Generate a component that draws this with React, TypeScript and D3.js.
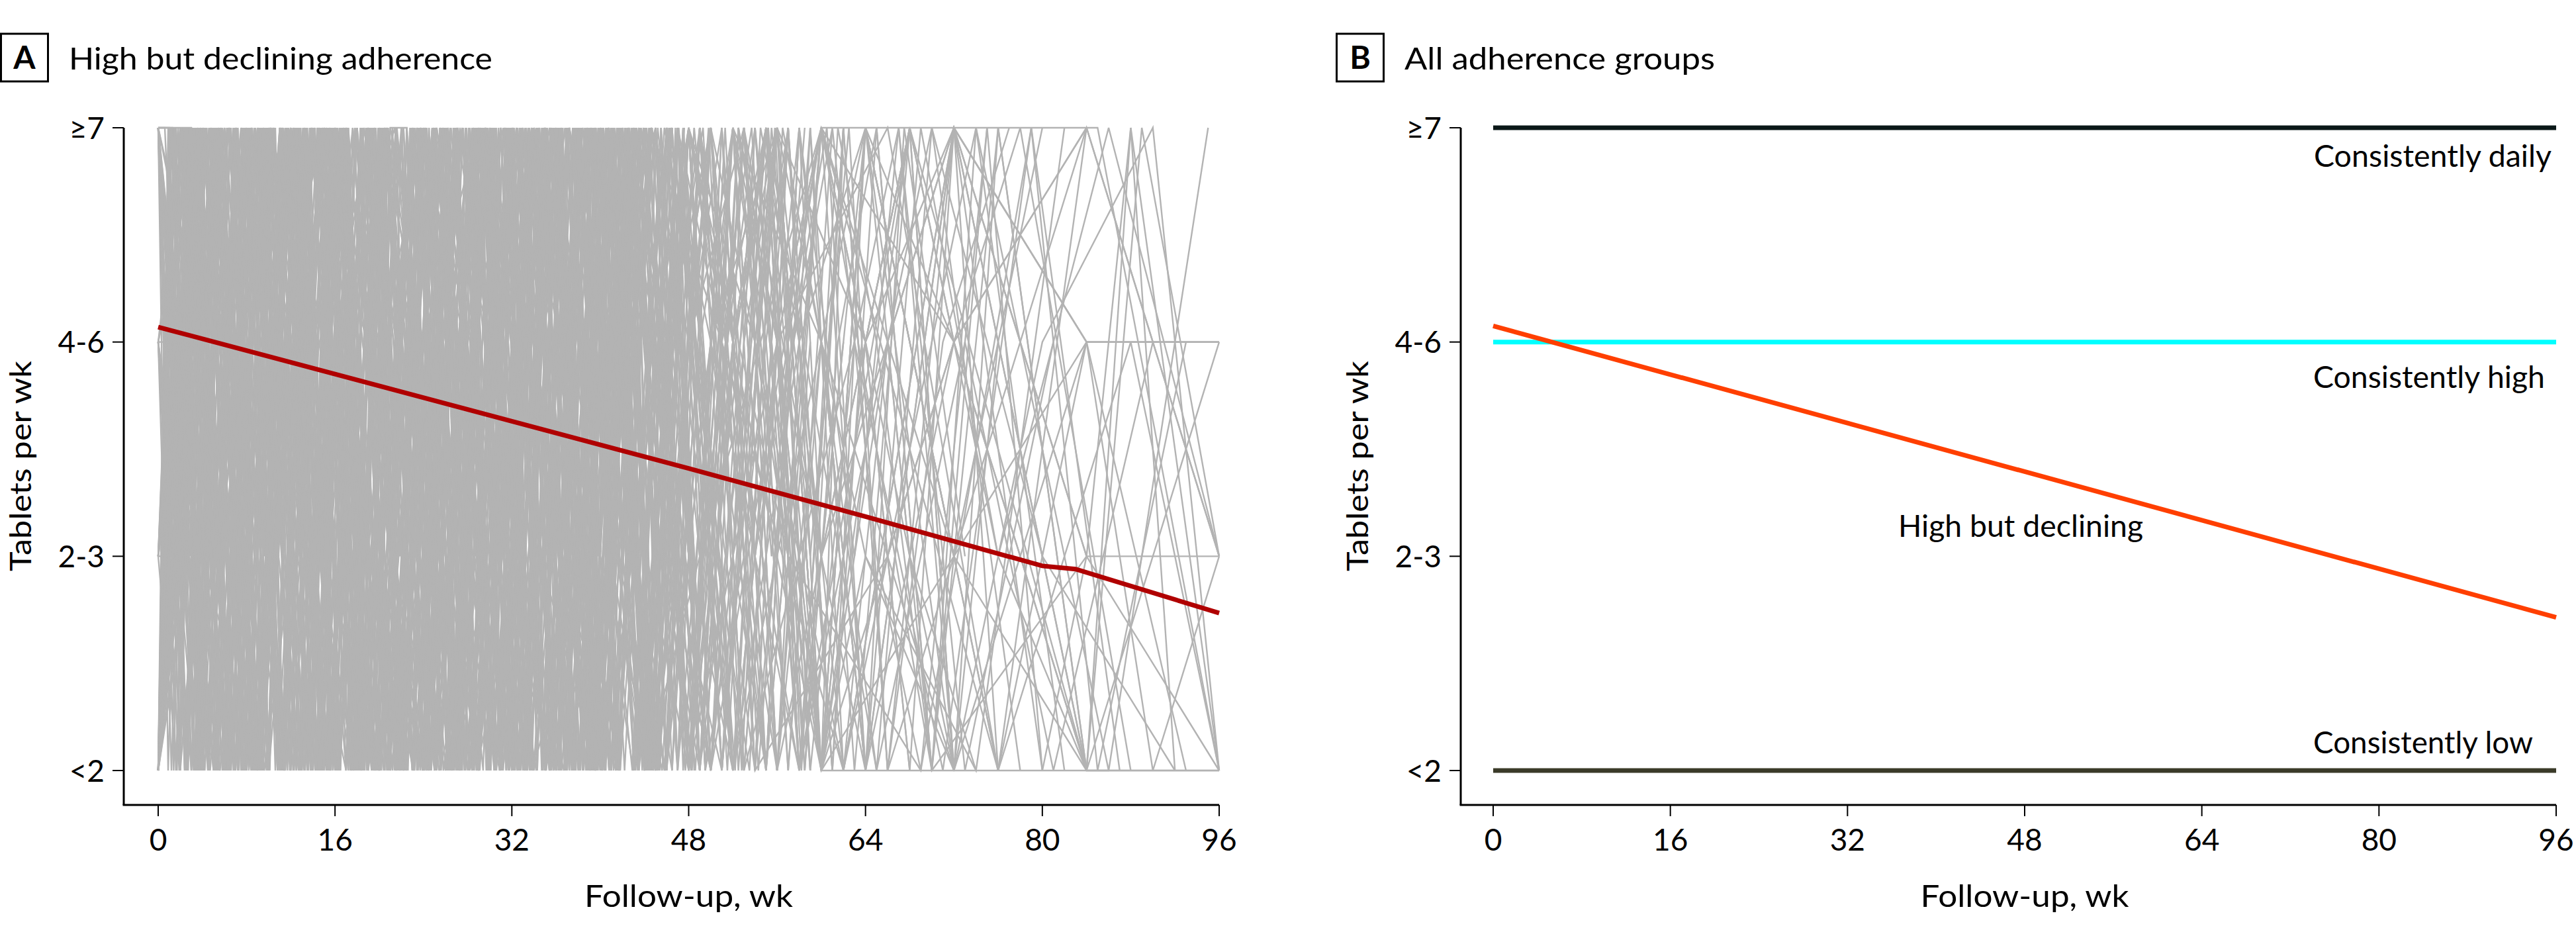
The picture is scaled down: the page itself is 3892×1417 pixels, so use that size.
import React from "react";
import * as d3 from "d3";

// ---------- DATA ----------
const yLevels = [0, 1, 2, 3];
const yTickLabels = ["<2", "2-3", "4-6", "≥7"];
const xTicks = [0, 16, 32, 48, 64, 80, 96];

// Individual trajectories, panel A: "week+level" tokens, level a=<2, b=2-3, c=4-6, d=≥7
const trajectories: string[] = [
  "0a 1.5d 3a 4.5c 6d 7.5a 9d 10.5b 12d 13.5a 15d 16.5c 18a 19.5d 21a 22.5d 24b 25.5d 27a 28.5c 30d 31.5a 33d 35b 37d 39a 41d 43b 46d 49a 52c 55d",
  "0d 1d 2a 3.5d 5b 6.5d 8a 9.5c 11d 12.5a 14d 15.5b 17d 18.5a 20c 21.5d 23a 24.5d 26b 27.5a 29d 30.5c 32a 33.5d 35a 36.5d 38b 40a 42d 45a 48c 51d 54a 57d",
  "0a 2.2c 3.8d 5.2a 6.8d 8.2b 9.8d 11.2a 12.8c 14.2d 15.8a 17.2d 18.8b 20.2d 21.8a 23.2c 24.8d 26.2a 27.8d 29.2b 30.8d 32.2a 33.8d 35.2c 36.8a 38.2d 40a 41.8d 44b",
  "0c 0.8c 2.5a 4d 5.5a 7c 8.5d 10a 11.5d 13b 14.5d 16a 17.5c 19d 20.5a 22d 23.5b 25d 26.5a 28c 29.5d 31a 32.5d 34b 35.5d 37a 38.5c 40d 41.5a 43d 45b 47d",
  "0a 1.2d 2.8b 4.4d 6a 7.6d 9.2c 10.8a 12.4d 14b 15.6d 17.2a 18.8d 20.4c 22a 23.6d 25.2a 26.8b 28.4d 30a 31.6c 33.2d 34.8a 36.4d 38b 39.6d 41.2a 43c 45d 47a 49d",
  "0d 2a 3.2d 4.8c 6.4a 8d 9.6b 11.2d 12.8a 14.4c 16d 17.6a 19.2d 20.8b 22.4a 24d 25.6c 27.2a 28.8d 30.4b 32d 33.6a 35.2d 36.8c 38.4a 40d 42b 44d 46a 48c 50d",
  "0b 1.8d 3.3a 4.9d 6.3b 7.9d 9.4a 10.9c 12.4d 13.9a 15.4d 16.9b 18.4d 19.9a 21.4c 22.9d 24.4a 25.9d 27.4b 28.9a 30.4d 31.9c 33.4a 34.9d 36.4b 37.9d 39.4a 41d 43c 45a 47d",
  "0a 1d 2.6a 4.1c 5.7d 7.2a 8.7d 10.3b 11.8d 13.3a 14.8c 16.4d 17.9a 19.4d 21b 22.5d 24a 25.5c 27.1d 28.6a 30.1d 31.7b 33.2a 34.7d 36.2c 37.8a 39.3d 41b 43d 45a 47d 50b 53d 56a",
  "0d 0.6d 2.3b 3.9d 5.4a 7d 8.5c 10.1a 11.6d 13.2b 14.7d 16.3a 17.8d 19.4c 20.9a 22.5d 24b 25.6d 27.1a 28.7c 30.2d 31.8a 33.3d 34.9b 36.4a 38d 39.5c 41.1d 43a 45d 48b 52a",
  "0a 2.4d 3.7a 5.3d 6.9b 8.4a 10d 11.5c 13.1d 14.6a 16.2d 17.7b 19.3a 20.8d 22.4c 23.9a 25.5d 27b 28.6d 30.1a 31.7d 33.2c 34.8a 36.3d 37.9b 39.4d 41a 43d 46c 49a",
  "0a 1.3c 2.1d 3.6a 5.1d 6.7c 8.2a 9.7d 11.3a 12.8d 14.3b 15.9d 17.4a 18.9c 20.5d 22a 23.5d 25.1b 26.6a 28.1d 29.7a 31.2c 32.7d 34.3a 35.8d 37.3b 38.9d 40.4a 42c 44d 46.5a 49d 52b 55a 58d",
  "0d 1.4a 2.9d 4.3b 5.8d 7.3a 8.8c 10.2d 11.7a 13.2d 14.6b 16.1a 17.6d 19c 20.5a 22d 23.4a 24.9c 26.4d 27.8a 29.3d 30.8b 32.2d 33.7a 35.2c 36.6d 38.1a 39.6d 41b 42.6d 44.5a 47c",
  "0c 1.9a 3.1d 4.6a 6.1c 7.5d 9a 10.5d 11.9b 13.4d 14.9a 16.3c 17.8d 19.3a 20.7d 22.2b 23.7a 25.1d 26.6c 28.1a 29.5d 31a 32.5b 33.9d 35.4a 36.9d 38.3c 39.8a 41.3d 43a 45c 48d 51a",
  "0a 0.9d 2.4a 3.9c 5.4d 6.8a 8.3d 9.8b 11.2a 12.7d 14.2c 15.6a 17.1d 18.6a 20b 21.5d 23a 24.4c 25.9d 27.4a 28.8d 30.3b 31.8d 33.2a 34.7c 36.2d 37.6a 39.1d 40.6b 42.5d 44.5a 47c 50d 53a 56c 59a",
  "0b 1.7a 3.2d 4.7b 6.2d 7.6a 9.1c 10.6d 12a 13.5d 15b 16.4d 17.9a 19.4d 20.8c 22.3a 23.8d 25.2a 26.7d 28.2b 29.6d 31.1a 32.6c 34d 35.5a 37d 38.4b 39.9d 41.4a 43d 45b 47.5d 50a",
  "0a 2.6d 3.4b 4.9d 6.4a 7.8c 9.3d 10.8a 12.2d 13.7b 15.2a 16.6d 18.1c 19.6a 21d 22.5d 24a 25.4c 26.9d 28.4a 29.8d 31.3b 32.8a 34.2d 35.7c 37.2a 38.6d 40.1a 41.6c 43.5d 46a",
  "0d 1.1c 2.7a 4.2d 5.6b 7.1d 8.6a 10c 11.5d 13a 14.4d 15.9b 17.4a 18.8d 20.3c 21.8a 23.2d 24.7a 26.2d 27.6b 29.1d 30.6a 32c 33.5d 35a 36.4d 37.9b 39.4a 40.8d 42.5c 44.5a 47d",
  "0a 1.6d 3.3c 4.1a 5.6d 7b 8.5d 10a 11.4c 12.9d 14.4a 15.8d 17.3b 18.8d 20.2a 21.7c 23.2d 24.6a 26.1d 27.6b 29a 30.5d 32a 33.4c 34.9d 36.4a 37.8d 39.3b 40.8a 42.2d 44c 46a 48.5d",
  "0c 2.2d 3.5a 5d 6.5c 7.9a 9.4d 10.9b 12.3d 13.8a 15.3d 16.7c 18.2a 19.7d 21.1b 22.6a 24.1d 25.5c 27a 28.5d 29.9a 31.4d 32.9b 34.3d 35.8a 37.3c 38.7d 40.2a 41.7d 43.5b 45.5d 48a 51d 54b 57d 61a",
  "0a 1.9b 2.5d 4a 5.5d 6.9c 8.4a 9.9d 11.3a 12.8d 14.3b 15.7d 17.2a 18.7c 20.1d 21.6a 23.1d 24.5b 26a 27.5d 28.9c 30.4a 31.9d 33.3a 34.8d 36.3b 37.7d 39.2a 40.7c 42.5d 44.8a 47b",
  "0d 1.3d 3a 5d 7b 9d 11a 13c 15d 17a 19d 21b 23a 25d 27c 29a 31d 33a 35d 37b 39a 41d 43c 45a 47d 49a 51c",
  "0a 2.8d 4.5a 6.3c 8.1d 9.9a 11.7d 13.5b 15.3a 17.1d 18.9c 20.7a 22.5d 24.3a 26.1d 27.9b 29.7d 31.5a 33.3c 35.1d 36.9a 38.7d 40.5b 42.3d 44.1a 46c 48d 51a",
  "0b 0.7b 2.1d 3.9a 5.7d 7.5b 9.3d 11.1a 12.9c 14.7d 16.5a 18.3d 20.1b 21.9a 23.7d 25.5c 27.3a 29.1d 30.9a 32.7d 34.5b 36.3d 38.1a 39.9c 41.7d 43.5a 45.5d 48b",
  "0a 1.1d 2.9b 4.7d 6.5a 8.3c 10.1d 11.9a 13.7d 15.5a 17.3c 19.1d 20.9a 22.7b 24.5d 26.3a 28.1d 29.9c 31.7a 33.5d 35.3b 37.1d 38.9a 40.7d 42.5c 44.3a 46.5d 49a 52c 55d 58a",
  "0d 2.5b 4.3d 6.1a 7.9d 9.7c 11.5a 13.3d 15.1b 16.9d 18.7a 20.5d 22.3c 24.1a 25.9d 27.7a 29.5d 31.3b 33.1a 34.9d 36.7c 38.5a 40.3d 42.1b 44d 46a 49d 53b",
  "0a 1.7c 3.5d 5.3a 7.1d 8.9a 10.7c 12.5d 14.3a 16.1d 17.9b 19.7a 21.5d 23.3c 25.1a 26.9d 28.7b 30.5d 32.3a 34.1c 35.9d 37.7a 39.5d 41.3b 43.1d 45a 48d 51a 54d 57b 60d",
  "0c 1.2a 3d 4.8b 6.6d 8.4a 10.2d 12c 13.8a 15.6d 17.4a 19.2d 21b 22.8d 24.6a 26.4c 28.2d 30a 31.8d 33.6b 35.4a 37.2d 39c 40.8a 42.6d 44.4a 46.5c 49d",
  "0a 2d 3.8a 5.6d 7.4c 9.2a 11d 12.8b 14.6d 16.4a 18.2c 20d 21.8a 23.6d 25.4b 27.2a 29d 30.8c 32.6a 34.4d 36.2a 38d 39.8b 41.6d 43.4a 45.2c 47d 50a 53c 56d 59a",
  "0d 0.9a 2.7d 4.5c 6.3a 8.1d 9.9b 11.7d 13.5a 15.3c 17.1d 18.9a 20.7d 22.5b 24.3a 26.1d 27.9c 29.7a 31.5d 33.3a 35.1d 36.9b 38.7a 40.5d 42.3c 44.1a 46d 48.5a",
  "0a 2.3d 4.1b 5.9a 7.7d 9.5c 11.3a 13.1d 14.9a 16.7d 18.5b 20.3d 22.1a 23.9c 25.7d 27.5a 29.3d 31.1b 32.9d 34.7a 36.5c 38.3d 40.1a 41.9d 43.7b 45.5d 47.5a 50c",
  "0b 1.6d 2.4a 4.2d 6c 7.8a 9.6d 11.4a 13.2d 15b 16.8d 18.6a 20.4c 22.2d 24a 25.8d 27.6b 29.4a 31.2d 33c 34.8a 36.6d 38.4a 40.2d 42b 44a 46.3d 49a 52d 55c 58a 62d",
  "0a 0.5c 2.2d 4a 5.8d 7.6b 9.4a 11.2d 13c 14.8a 16.6d 18.4a 20.2d 22b 23.8d 25.6a 27.4c 29.2d 31a 32.8d 34.6b 36.4a 38.2d 40c 41.8a 43.6d 45.4a 47.6d",
  "0d 1.9c 3.7a 5.5d 7.3a 9.1d 10.9b 12.7a 14.5d 16.3c 18.1a 19.9d 21.7a 23.5d 25.3b 27.1d 28.9a 30.7c 32.5d 34.3a 36.1d 37.9b 39.7a 41.5d 43.3c 45.1a 47d 49.5b",
  "0a 1.4d 3.2a 5c 6.8d 8.6a 10.4d 12.2b 14a 15.8d 17.6c 19.4a 21.2d 23a 24.8d 26.6b 28.4a 30.2d 32c 33.8a 35.6d 37.4a 39.2d 41b 42.8d 44.6a 47d 50b 53d 56a 59c",
  "0c 2.7a 3.6d 5.4b 7.2d 9a 10.8c 12.6d 14.4a 16.2d 18b 19.8a 21.6d 23.4c 25.2a 27d 28.8a 30.6d 32.4b 34.2d 36a 37.8c 39.6d 41.4a 43.2d 45b 47d 50a",
  "0a 1.8b 2.7d 4.5a 6.3d 8.1c 9.9a 11.7d 13.5a 15.3d 17.1b 18.9d 20.7a 22.5c 24.3d 26.1a 27.9d 29.7b 31.5a 33.3d 35.1c 36.9a 38.7d 40.5a 42.3d 44.1b 46.5d 49.5a 52.5d 55.5b 58.5d",
  "0d 1.6a 3.4d 5.2c 7a 8.8d 10.6a 12.4d 14.2b 16a 17.8d 19.6c 21.4a 23.2d 25a 26.8d 28.6b 30.4a 32.2d 34c 35.8a 37.6d 39.4a 41.2d 43b 45a 47d 51c",
  "0a 1d 2.8c 4.6d 6.4a 8.2d 10b 11.8d 13.6a 15.4c 17.2d 19a 20.8d 22.6b 24.4a 26.2d 28c 29.8a 31.6d 33.4a 35.2d 37b 38.8a 40.6d 42.4c 44.2a 46d 49a 52c 55d 58a",
  "0b 2.1d 3.9a 5.7d 7.5b 9.3a 11.1d 12.9c 14.7a 16.5d 18.3a 20.1d 21.9b 23.7d 25.5a 27.3c 29.1d 30.9a 32.7d 34.5b 36.3a 38.1d 39.9c 41.7a 43.5d 45.3a 48d",
  "0a 2.9c 3.3d 5.1a 6.9d 8.7b 10.5d 12.3a 14.1c 15.9d 17.7a 19.5d 21.3b 23.1a 24.9d 26.7c 28.5a 30.3d 32.1a 33.9d 35.7b 37.5d 39.3a 41.1c 42.9d 44.7a 46.8d 49a",
  // longer follow-up
  "0a 3d 6a 9c 12d 15a 18d 21b 24d 27a 30d 33c 36a 39d 42b 45d 48a 52c 56d 60a 64d 72a",
  "0d 2.5a 5.5d 8.5b 11.5d 14.5a 17.5c 20.5d 23.5a 26.5d 29.5b 32.5a 35.5d 38.5c 41.5a 44.5d 48b 52d 56a 60c 64a 72d 84d",
  "0a 2d 5b 8d 11a 14c 17d 20a 23d 26b 29a 32d 35c 38a 41d 44a 48d 54b 60d 72c 84a 96a",
  "0c 3a 6d 9b 12a 15d 18c 21a 24d 27a 30c 33d 36a 39d 42b 45a 48d 52a 58c 64d 72b 84c 96c",
  "0d 4a 7d 10c 13a 16d 19b 22d 25a 28c 31d 34a 37d 40b 43a 46d 50c 55a 60d 68d 72a 76d 84a",
  "0a 2.5c 5.5d 8.5a 11.5d 14.5b 17.5a 20.5d 23.5c 26.5a 29.5d 32.5a 35.5d 38.5b 41.5d 44.5a 48c 53d 60a 72b 84d 96b",
  "0b 3.5d 6.5a 9.5d 12.5c 15.5a 18.5d 21.5a 24.5b 27.5d 30.5a 33.5c 36.5d 39.5a 42.5d 46b 50a 56d 62a 72d 84b 88d 96a",
  "0a 1.5d 4.5a 7.5c 10.5d 13.5a 16.5d 19.5b 22.5a 25.5d 28.5c 31.5a 34.5d 37.5a 40.5c 43.5d 47a 52d 60b 64a 72c 84d 85d 96a",
  "0d 2a 5c 8d 11a 14d 17b 20a 23d 26c 29a 32d 35a 38d 41b 44a 47d 52a 56c 60d 76a 84c 96c",
  "0a 3.5c 6.5d 9.5a 12.5d 15.5b 18.5d 21.5a 24.5c 27.5d 30.5a 33.5d 36.5b 39.5a 42.5d 46c 50d 56a 60b 68d 72d 84a 89d 96b",
  "0c 2b 5d 8a 11d 14c 17a 20d 23a 26d 29b 32a 35d 38c 41a 44d 48a 52d 60c 72a 86a 95d",
  "0a 2.8d 5.8a 8.8d 11.8b 14.8d 17.8a 20.8c 23.8d 26.8a 29.8d 32.8b 35.8a 38.8d 41.8c 44.8a 48d 54c 60a 64d 72b 76a",
  "0d 1.2b 4.2d 7.2a 10.2d 13.2c 16.2a 19.2d 22.2a 25.2b 28.2d 31.2a 34.2c 37.2d 40.2a 43.2d 46.5b 51a 56d 64c 72d 80a 84b 96a",
  "0a 4d 7b 10d 13a 16c 19d 22a 25d 28b 31a 34d 37c 40a 43d 46a 50c 56d 60a 72a 84c 90a 96b",
  "0b 2.2d 5.2a 8.2c 11.2d 14.2a 17.2d 20.2b 23.2a 26.2d 29.2c 32.2a 35.2d 38.2a 41.2d 44.2b 48a 52d 57b 60a 68d 84a 88d 92a",
  "0a 3.2c 6.2a 9.2d 12.2a 15.2d 18.2c 21.2a 24.2d 27.2b 30.2d 33.2a 36.2c 39.2d 42.2a 45.2d 49b 54d 60a 66c 72d 84a 96c",
  "0d 3d 6a 9d 12c 15a 18d 21a 24b 27d 30a 33c 36d 39a 42d 45c 48a 53d 60b 72d 84b",
  "0a 1.8d 4.8b 7.8d 10.8a 13.8d 16.8c 19.8a 22.8d 25.8a 28.8b 31.8d 34.8a 37.8c 40.8d 43.8a 47d 51a 55d 60b 64d 72c 84d",
  "0c 2.6a 5.6d 8.6a 11.6c 14.6d 17.6a 20.6d 23.6b 26.6a 29.6d 32.6c 35.6a 38.6d 41.6a 44.6d 48c 52a 58d 64a 72d 84c 96c",
  "0a 3.8d 6.8c 9.8a 12.8d 15.8a 18.8d 21.8b 24.8d 27.8a 30.8c 33.8d 36.8a 39.8d 42.8b 45.8a 49d 55a 60d 72b 76a 84d 96b",
  "0a 3d 6c 9a 12d 15a 18d 21b 24a 27d 30c 33a 36d 39a 42d 46b 50a 54d 58a 62c",
  "0d 2.4a 5.4d 8.4b 11.4a 14.4d 17.4c 20.4a 23.4d 26.4a 29.4d 32.4b 35.4a 38.4d 41.4c 44.4a 47.5d 51a 56d 60a",
  "0a 3.3d 6.3a 9.3c 12.3d 15.3a 18.3d 21.3b 24.3a 27.3d 30.3c 33.3a 36.3d 39.3a 42.3d 45.5b 49a 52.5d 56c 60a 64d",
  "0b 1.5d 4.5a 7.5d 10.5c 13.5a 16.5d 19.5a 22.5b 25.5d 28.5a 31.5c 34.5d 37.5a 40.5d 43.5a 47c 50d 54a 57d 60a 64c 68d",
  "0a 2.7c 5.7d 8.7a 11.7d 14.7b 17.7a 20.7d 23.7c 26.7a 29.7d 32.7a 35.7d 38.7b 41.7a 44.7d 48a 51c 55d 60a 62d",
  "0d 4.2a 7.2d 10.2b 13.2d 16.2a 19.2c 22.2d 25.2a 28.2d 31.2b 34.2a 37.2d 40.2c 43.2a 46.2d 49.5a 53b 57d 60a 64b 72a",
  "0a 1.2d 4.2a 7.2c 10.2d 13.2a 16.2d 19.2b 22.2a 25.2d 28.2c 31.2a 34.2d 37.2a 40.2d 43.2b 46.5a 50d 53a 56c 60d 64a",
  "0c 3.6d 6.6a 9.6d 12.6b 15.6a 18.6d 21.6c 24.6a 27.6d 30.6a 33.6d 36.6b 39.6a 42.6d 45.6c 48.6a 52d 56a 60d 64c 68a",
  "0a 2.1d 5.1b 8.1d 11.1a 14.1c 17.1d 20.1a 23.1d 26.1b 29.1a 32.1d 35.1c 38.1a 41.1d 44.1a 47.1d 50b 53d 57a 61d",
  "0d 3.9c 6.9a 9.9d 12.9a 15.9d 18.9b 21.9a 24.9d 27.9c 30.9a 33.9d 36.9a 39.9d 42.9b 45.9a 49d 52c 55a 58d 60b 68d 72a",
  "0a 4d 8a 12c 16d 20a 24d 28b 32d 36a 40d 44c 47a 50d 53b 56a 59d 62a 66c 70a",
  "0d 5a 9d 13b 17a 21d 25c 29a 33d 37a 41d 45b 48d 51a 54c 57d 61a 64d 68b 74a",
  "0b 3d 7a 11d 15c 19a 23d 27a 31c 35d 39a 43d 46a 49c 52d 55a 58d 63b 67d 72a 76c",
  "0a 4.5c 8.5d 12.5a 16.5d 20.5b 24.5a 28.5d 32.5c 36.5a 40.5d 44.5a 47.5d 50.5b 53.5a 56.5d 60c 65a 70d 78a",
  "0c 3.5a 7.5d 11.5a 15.5d 19.5c 23.5a 27.5d 31.5b 35.5a 39.5d 43.5c 46.5d 49.5a 52.5d 55.5c 58.5a 62d 66a 72b 80d",
  "0a 4.2d 8.2b 12.2d 16.2a 20.2c 24.2d 28.2a 32.2d 36.2b 40.2a 44.2d 48.2a 51d 54a 57.5c 61d 65b 69a 75d",
  "0d 3.3a 7.3c 11.3d 15.3a 19.3d 23.3b 27.3a 31.3d 35.3c 39.3a 43.3d 46.8b 49.8d 52.8a 55.8d 59a 63c 67d 73a 81c",
  "0a 5.2d 9.2a 13.2d 17.2c 21.2a 25.2d 29.2b 33.2a 37.2d 41.2c 45.2a 48.5d 52b 55d 58a 62d 66a 71c 77d",
  "0b 4.8d 8.8a 12.8c 16.8d 20.8a 24.8d 28.8a 32.8b 36.8d 40.8a 44.8c 48d 51.5a 54.5d 58c 61a 65d 70a 74d 82a",
  "0a 3.7d 7.7a 11.7d 15.7b 19.7a 23.7d 27.7c 31.7a 35.7d 39.7a 43.7d 47b 50a 53d 56b 59d 63a 68d 72c",
  "0d 4.4c 8.4a 12.4d 16.4a 20.4d 24.4b 28.4a 32.4d 36.4c 40.4a 44.4d 47.7a 50.7c 53.7d 57a 60c 64a 69d 76b 84a",
  "0a 2.9d 6.9a 10.9c 14.9d 18.9a 22.9d 26.9b 30.9a 34.9d 38.9c 42.9a 46d 49a 52.2c 55.2d 58.2a 61.5d 65c 70a 75d 80a",
  "0c 5.6a 9.6d 13.6b 17.6d 21.6a 25.6c 29.6d 33.6a 37.6d 41.6b 45.6a 49d 52a 55.5d 59b 62.5d 66a 72d 76a",
  "0a 3.1c 7.1d 11.1a 15.1d 19.1b 23.1a 27.1d 31.1c 35.1a 39.1d 43.1a 46.3c 49.3d 52.5a 56d 60a 64c 68a 72d 84c",
  "0d 4.7a 8.7d 12.7a 16.7c 20.7d 24.7a 28.7d 32.7b 36.7a 40.7d 44.7c 48.3a 51.3d 54.3a 57.3c 60.5d 64a 67.5d 73b",
  "0a 5.8d 9.8b 13.8d 17.8a 21.8c 25.8d 29.8a 33.8d 37.8b 41.8a 45.8d 49.2c 52.2a 55.2d 58.5a 61.5c 65d 70a 76d 84a",
  "0a 4d 8b 12d 16a 20d 24c 28a 32d 36a 40d 44b 48d 60a 72c 84a",
  "0d 5a 10d 15c 20a 25d 30a 35d 40b 45a 50d 62a 74d 86a",
  "0a 6c 12d 18a 24d 30b 36a 42d 48a 56c 66d 76a 88c 96a",
  "0c 4a 9d 14a 19d 24b 29a 34d 39c 44a 48d 58a 70d 80b 92a",
  "0a 5d 10a 15d 20c 25a 30d 35a 40c 45d 52a 64d 72b 84a 96a",
  "0d 4b 9a 14d 19a 24c 29d 34a 39d 44a 49b 60d 70a 84b 96b",
  "0b 6d 11a 16d 21b 26a 31d 36c 41a 46d 54a 66b 78d 88a",
  "0a 4.6d 9.6a 14.6c 19.6d 24.6a 29.6d 34.6b 39.6a 44.6d 51c 62a 72d 84c 93a",
  "0d 3.4a 8.4d 13.4b 18.4a 23.4d 28.4c 33.4a 38.4d 43.4a 48d 57b 69a 79d 87a",
  "0a 5.4c 10.4d 15.4a 20.4d 25.4a 30.4b 35.4d 40.4a 45.4c 50a 60d 72a 80c 90d 96a",
  "0c 4.1d 9.1a 14.1d 19.1b 24.1a 29.1d 34.1c 39.1a 44.1d 49a 56d 64b 74a 82d",
  "0a 6.4d 11.4a 16.4c 21.4d 26.4a 31.4d 36.4b 41.4a 46.4d 53a 63c 71a 79d 85a 93c",
  "0d 5.1a 10.1d 15.1b 20.1a 25.1d 30.1c 35.1a 40.1d 45.1a 50c 58a 68d 76b 86d 96b",
  "0a 3.9d 8.9a 13.9d 18.9c 23.9a 28.9d 33.9a 38.9b 43.9d 48a 55d 65a 73c 81a 90c",
];

// Fitted trajectory of the high-but-declining group (panel A)
const fitWeeks = [0, 16, 32, 48, 64, 80, 83, 96];
const fitValues = [2.07, 1.85, 1.63, 1.41, 1.185, 0.955, 0.94, 0.735];

// Panel B group trajectories
const groupNames = ["Consistently daily", "Consistently high", "High but declining", "Consistently low"];
const groupWeeks = [0, 96];
const groupStartValues = [3, 2, 2.075, 0];
const groupEndValues = [3, 2, 0.715, 0];
const groupColors = ["#0b1818", "#00ffff", "#ff3f00", "#3a3a28"];

// ---------- LAYOUT ----------
const W = 3892;
const H = 1417;
const FONT = "Lato, 'Noto Sans', sans-serif";
const FS = 47;

const parseTraj = (s: string) =>
  s.trim().split(/\s+/).map((t) => {
    const m = t.match(/^([\d.]+)([a-d])$/)!;
    return { w: parseFloat(m[1]), l: "abcd".indexOf(m[2]) };
  });

function Axes({ x, y, axisX, axisY }: { x: d3.ScaleLinear<number, number>; y: d3.ScaleLinear<number, number>; axisX: number; axisY: number }) {
  const [x0, x1] = x.range();
  return (
    <g>
      <line x1={axisX} x2={axisX} y1={y(3)} y2={axisY} stroke="#000" strokeWidth={3} />
      <line x1={axisX - 1.5} x2={x1} y1={axisY} y2={axisY} stroke="#000" strokeWidth={3} />
      {yLevels.map((l, i) => (
        <g key={l}>
          <line x1={axisX - 17} x2={axisX} y1={y(l)} y2={y(l)} stroke="#000" strokeWidth={2} />
          <text x={axisX - 29} y={y(l)} dy="0.36em" textAnchor="end" fontFamily={FONT} fontSize={46} fill="#000">
            {yTickLabels[i]}
          </text>
        </g>
      ))}
      {xTicks.map((t) => (
        <g key={t}>
          <line x1={x(t)} x2={x(t)} y1={axisY} y2={axisY + 17} stroke="#000" strokeWidth={2} />
          <text x={x(t)} y={1285} textAnchor="middle" fontFamily={FONT} fontSize={46} fill="#000">
            {t}
          </text>
        </g>
      ))}
      <text x={(x0 + x1) / 2} y={1370} textAnchor="middle" fontFamily={FONT} fontSize={FS} textLength={315} lengthAdjust="spacingAndGlyphs" fill="#000">
        Follow-up, wk
      </text>
    </g>
  );
}

function PanelTitle({ x0, letter, title, titleWidth }: { x0: number; letter: string; title: string; titleWidth: number }) {
  return (
    <g>
      <rect x={x0 + 1.5} y={51} width={71} height={72} fill="none" stroke="#000" strokeWidth={3} />
      <text x={x0 + 37} y={104} textAnchor="middle" fontFamily={FONT} fontWeight={700} fontSize={48} fill="#000">
        {letter}
      </text>
      <text x={x0 + 104} y={105} fontFamily={FONT} fontSize={FS} textLength={titleWidth} lengthAdjust="spacingAndGlyphs" fill="#000">
        {title}
      </text>
    </g>
  );
}

export default function App() {
  const y = d3.scaleLinear().domain([0, 3]).range([1164, 193]);
  const xA = d3.scaleLinear().domain([0, 96]).range([239, 1842]);
  const xB = d3.scaleLinear().domain([0, 96]).range([2256, 3862]);

  const trajLine = d3
    .line<{ w: number; l: number }>()
    .x((d) => xA(d.w))
    .y((d) => y(d.l));

  const fitLine = d3
    .line<number>()
    .x((_, i) => xA(fitWeeks[i]))
    .y((d) => y(d));

  const parsed = trajectories.map(parseTraj);

  const axisYPos = 1216;

  const labelPos = [
    { x: 3496, y: 252, w: 359 },
    { x: 3495, y: 586, w: 350 },
    { x: 2868, y: 811, w: 370 },
    { x: 3495, y: 1138, w: 332 },
  ];

  return (
    <div style={{ position: "absolute", left: 0, top: 0 }}>
      <svg width={W} height={H} viewBox={`0 0 ${W} ${H}`} style={{ display: "block", background: "#fff" }}>
        <rect width={W} height={H} fill="#fff" />
        {/* Panel A */}
        <PanelTitle x0={0} letter="A" title="High but declining adherence" titleWidth={640} />
        <g>
          {parsed.map((p, i) => (
            <path key={i} d={trajLine(p) || ""} fill="none" stroke="#b3b3b3" strokeWidth={2.4} />
          ))}
        </g>
        <path d={fitLine(fitValues) || ""} fill="none" stroke="#b00000" strokeWidth={7} />
        <Axes x={xA} y={y} axisX={187} axisY={axisYPos} />
        <text
          transform={`translate(47, 704) rotate(-90)`}
          textAnchor="middle"
          fontFamily={FONT}
          fontSize={44}
          textLength={318}
          lengthAdjust="spacingAndGlyphs"
          fill="#000"
        >
          Tablets per wk
        </text>

        {/* Panel B */}
        <PanelTitle x0={2018} letter="B" title="All adherence groups" titleWidth={469} />
        {groupNames.map((g, i) => {
          const pts = [groupStartValues[i], groupEndValues[i]];
          const ln = d3
            .line<number>()
            .x((_, j) => xB(groupWeeks[j]))
            .y((d) => y(d));
          return <path key={g} d={ln(pts) || ""} fill="none" stroke={groupColors[i]} strokeWidth={7} />;
        })}
        {groupNames.map((g, i) => (
          <text key={g} x={labelPos[i].x} y={labelPos[i].y} fontFamily={FONT} fontSize={FS} textLength={labelPos[i].w} lengthAdjust="spacingAndGlyphs" fill="#000">
            {g}
          </text>
        ))}
        <Axes x={xB} y={y} axisX={2207} axisY={axisYPos} />
        <text
          transform={`translate(2067, 704) rotate(-90)`}
          textAnchor="middle"
          fontFamily={FONT}
          fontSize={44}
          textLength={318}
          lengthAdjust="spacingAndGlyphs"
          fill="#000"
        >
          Tablets per wk
        </text>
      </svg>
    </div>
  );
}
